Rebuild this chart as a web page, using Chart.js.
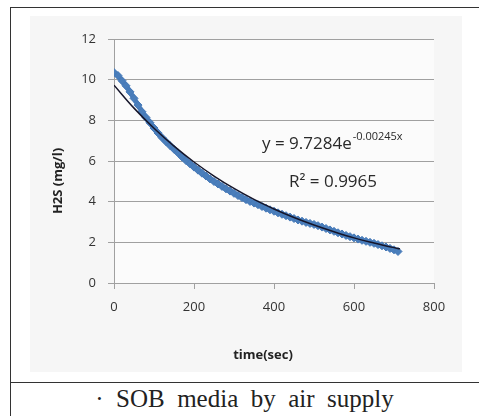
<!DOCTYPE html>
<html>
<head>
<meta charset="utf-8">
<script src="https://cdn.jsdelivr.net/npm/chart.js@4/dist/chart.umd.min.js"></script>
<style>
  html, body { margin: 0; padding: 0; background: #fff; }
  body { width: 479px; height: 416px; position: relative; overflow: hidden; }
  .cell { position: absolute; left: 10px; top: 7px; width: 469px; height: 409px;
          border-left: 1.5px solid #333; border-top: 1.5px solid #333; box-sizing: border-box; }
  .sep { position: absolute; left: 10px; top: 382px; width: 469px; height: 0; border-top: 1.5px solid #333; }
  .panel { position: absolute; left: 30px; top: 16px; width: 432px; height: 356px; background: #f6f6f6; }
  .caption { position: absolute; left: 10px; top: 384px; width: 469px; text-align: center;
             font-family: "Liberation Serif", serif; font-size: 25px; color: #222; white-space: pre; line-height: 30px; }
</style>
</head>
<body>
<div class="cell"></div>
<div class="panel"><canvas id="h2sChart" width="432" height="356"></canvas></div>
<div class="sep"></div>
<div class="caption">·  SOB  media  by  air  supply</div>

<script>
const timeSec = [0, 10, 20, 30, 40, 50, 60, 70, 80, 90, 100, 110, 120, 130, 140, 150, 160, 170, 180, 190,
                 200, 210, 220, 230, 240, 250, 260, 270, 280, 290, 300, 310, 320, 330, 340, 350, 360, 370, 380, 390,
                 400, 410, 420, 430, 440, 450, 460, 470, 480, 490, 500, 510, 520, 530, 540, 550, 560, 570, 580, 590,
                 600, 610, 620, 630, 640, 650, 660, 670, 680, 690, 700, 710];
const h2s = [10.35, 10.2, 9.95, 9.7, 9.4, 9.08, 8.75, 8.42, 8.14, 7.88, 7.62, 7.38, 7.15, 6.95, 6.76, 6.58, 6.4, 6.2, 6.02, 5.86,
             5.7, 5.55, 5.4, 5.26, 5.12, 4.99, 4.87, 4.75, 4.63, 4.52, 4.41, 4.3, 4.2, 4.1, 4.01, 3.93, 3.85, 3.76, 3.68, 3.6,
             3.53, 3.45, 3.38, 3.31, 3.24, 3.17, 3.1, 3.04, 2.98, 2.93, 2.88, 2.82, 2.75, 2.68, 2.61, 2.54, 2.47, 2.41, 2.34, 2.28,
             2.22, 2.16, 2.1, 2.05, 2.0, 1.95, 1.89, 1.83, 1.77, 1.7, 1.63, 1.55];

// exponential trend line as drawn on the figure
const trendX = [0, 50, 100, 150, 200, 250, 300, 350, 400, 450, 500, 550, 600, 650, 700, 715];
const trendY = [9.73, 8.6, 7.61, 6.73, 5.95, 5.26, 4.65, 4.11, 3.64, 3.22, 2.85, 2.52, 2.22, 1.97, 1.74, 1.68];

const xTicksMax = 800, yTicksMax = 12;
const eqMain = 'y = 9.7284e', eqExp = '-0.00245x', eqR2 = 'R² = 0.9965';
const xTitle = 'time(sec)', yTitle = 'H2S (mg/l)';

const GRID = '#a0a0a0';
const FONT = '"Open Sans", "Noto Sans", sans-serif';

const labelsPlugin = {
    id: 'labels',
    beforeDraw(chart) {
        const { ctx, chartArea: a } = chart;
        ctx.save();
        ctx.fillStyle = '#fbfbfb';
        ctx.fillRect(a.left, a.top, a.right - a.left, a.bottom - a.top);
        ctx.restore();
    },
    afterDraw(chart) {
        const ctx = chart.ctx;
        ctx.save();
        ctx.fillStyle = '#222';
        // axis titles
        ctx.font = 'bold 13px ' + FONT;
        ctx.textAlign = 'center';
        ctx.textBaseline = 'middle';
        ctx.fillText(xTitle, 233, 339);
        ctx.translate(28, 165);
        ctx.rotate(-Math.PI / 2);
        ctx.fillText(yTitle, 0, 0);
        ctx.setTransform(1, 0, 0, 1, 0, 0);
        // trend equation
        ctx.textAlign = 'left';
        ctx.textBaseline = 'alphabetic';
        ctx.fillStyle = '#2a2a2a';
        ctx.font = '17px ' + FONT;
        ctx.fillText(eqMain, 232, 133);
        const w = ctx.measureText(eqMain).width;
        ctx.font = '11px ' + FONT;
        ctx.fillText(eqExp, 232 + w + 1, 124);
        ctx.font = '17px ' + FONT;
        ctx.fillText(eqR2, 259, 171);
        ctx.restore();
    }
};

new Chart(document.getElementById('h2sChart'), {
    type: 'scatter',
    data: {
        datasets: [
            {
                label: 'trend',
                data: trendX.map((x, i) => ({ x, y: trendY[i] })),
                showLine: true,
                borderColor: '#15152a',
                borderWidth: 1.5,
                pointRadius: 0,
                tension: 0.4,
                fill: false
            },
            {
                label: 'H2S',
                data: timeSec.map((x, i) => ({ x, y: h2s[i] })),
                showLine: true,
                borderColor: '#4a7ebb',
                borderWidth: 5,
                pointStyle: 'rectRot',
                pointRadius: 4,
                pointBackgroundColor: '#4a7ebb',
                pointBorderColor: '#4679b8',
                pointBorderWidth: 1
            }
        ]
    },
    options: {
        responsive: false,
        animation: false,
        layout: { padding: { top: 23, right: 28, left: 0, bottom: 0 } },
        plugins: { legend: { display: false }, tooltip: { enabled: false } },
        scales: {
            x: {
                type: 'linear', min: 0, max: xTicksMax,
                afterFit: s => { s.height = 89; },
                ticks: { stepSize: 200, color: '#333', padding: 10, font: { family: FONT, size: 13 } },
                grid: { drawOnChartArea: false, drawTicks: true, tickLength: 6, color: GRID },
                border: { display: true, color: GRID }
            },
            y: {
                min: 0, max: yTicksMax,
                afterFit: s => { s.width = 84; },
                ticks: { stepSize: 2, color: '#333', padding: 12, font: { family: FONT, size: 13 } },
                grid: { drawTicks: true, tickLength: 6, color: GRID },
                border: { display: true, color: GRID }
            }
        }
    },
    plugins: [labelsPlugin]
});
</script>
</body>
</html>
